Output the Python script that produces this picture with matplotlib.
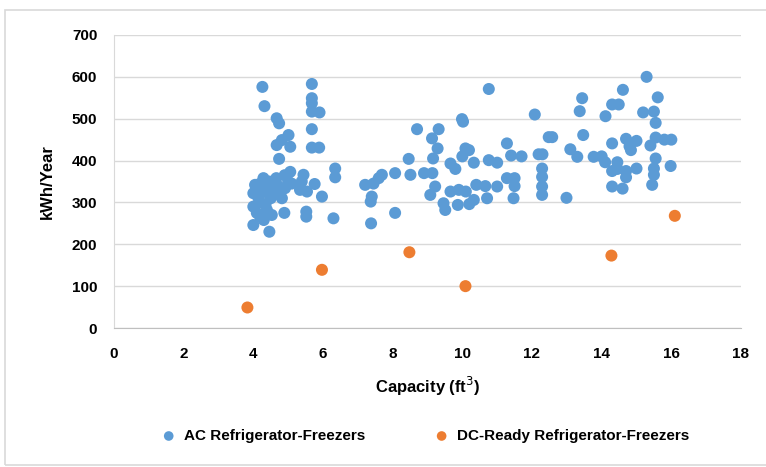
import matplotlib
matplotlib.use("Agg")
import matplotlib.pyplot as plt
from matplotlib.patches import Rectangle

# AC refrigerator-freezers: capacity (ft3), energy (kWh/year)
ac_capacity = [
    4.26, 4.32, 4.67, 4.74, 5.01, 4.82, 4.67, 5.06, 4.74, 5.06, 4.90, 4.29, 4.66,
    4.05, 4.00, 4.91, 4.82, 4.00, 4.39, 4.53, 4.89, 4.00, 4.46, 4.30,
    4.10, 4.15, 4.20, 4.25, 4.35, 4.40, 4.45, 4.50, 4.55, 4.60, 4.70, 4.75,
    4.10, 4.20, 4.20, 4.35, 4.50, 5.00, 5.10,
    5.68, 5.68, 5.68, 5.68, 5.90, 5.68, 5.68, 5.89, 6.35, 6.35, 5.44, 5.39,
    5.76, 5.34, 5.54, 5.97, 5.52, 5.52, 6.30,
    10.76, 12.08, 9.99, 10.02, 8.70, 9.32, 9.13, 12.48, 9.29, 10.09, 10.19, 11.28,
    9.16, 8.46, 10.00, 12.19, 11.40, 11.70, 10.76, 10.33, 9.66, 8.07, 7.69, 8.51,
    8.90, 9.14, 9.80, 11.00, 12.29, 12.29, 11.28, 11.50, 7.60, 7.21, 7.45, 10.40,
    9.22, 10.66, 11.00, 11.50, 12.29, 9.08, 9.66, 9.90, 10.10, 12.29, 11.47, 7.40,
    7.37, 10.71, 10.33, 9.46, 9.51, 9.87, 10.20, 8.07, 7.38,
    15.29, 14.61, 15.61, 13.44, 14.30, 14.49, 13.37, 14.11, 15.19, 15.50, 15.55,
    12.58, 13.47, 14.70, 14.30, 15.00, 14.80, 15.55, 16.00, 15.80, 15.40, 14.84,
    13.10, 13.30, 13.77, 14.00, 14.10, 14.45, 15.55, 12.30, 15.98, 14.45, 15.00,
    15.50, 14.70, 14.30, 14.70, 15.50, 15.45, 14.30, 14.60, 12.99,
]
ac_energy = [
    576, 530, 501, 489, 461, 449, 437, 433, 404, 373, 365, 358, 358,
    342, 322, 334, 310, 290, 282, 270, 275, 246, 230, 258,
    330, 310, 345, 335, 325, 340, 350, 330, 345, 320, 340, 330,
    275, 265, 300, 295, 310, 350, 345,
    583, 549, 537, 517, 515, 475, 431, 431, 381, 360, 366, 350,
    344, 330, 326, 314, 278, 266, 262,
    571, 510, 499, 493, 475, 475, 453, 456, 429, 429, 425, 441,
    405, 404, 410, 415, 412, 410, 401, 395, 393, 370, 366, 366,
    370, 370, 380, 395, 381, 361, 358, 358, 358, 342, 345, 342,
    338, 339, 338, 339, 338, 318, 326, 330, 326, 318, 310, 314,
    302, 310, 306, 298, 282, 294, 296, 275, 250,
    600, 569, 551, 549, 534, 534, 518, 506, 515, 517, 490,
    456, 461, 452, 441, 447, 434, 455, 450, 450, 436, 425,
    427, 409, 409, 410, 396, 396, 405, 415, 387, 380, 381,
    381, 375, 375, 360, 366, 342, 338, 333, 311,
]

# DC-ready refrigerator-freezers
dc_capacity = [3.83, 5.97, 8.48, 10.09, 14.28, 16.10]
dc_energy = [49, 139, 181, 100, 173, 268]

x_ticks = [0, 2, 4, 6, 8, 10, 12, 14, 16, 18]
y_ticks = [0, 100, 200, 300, 400, 500, 600, 700]

plt.rcParams['font.family'] = ['Liberation Sans', 'DejaVu Sans']

fig = plt.figure(figsize=(7.66, 4.67), dpi=100)
ax = fig.add_axes([114/766, 1-328/467, (741-114)/766, (328-35)/467])

blue = '#5B9BD5'
orange = '#ED7D31'
ax.scatter(ac_capacity, ac_energy, s=75, color=blue, edgecolors='none',
           label='AC Refrigerator-Freezers', zorder=3)
ax.scatter(dc_capacity, dc_energy, s=75, color=orange, edgecolors='none',
           label='DC-Ready Refrigerator-Freezers', zorder=3)

ax.set_xlim(0, 18)
ax.set_ylim(0, 700)
ax.set_xticks(x_ticks)
ax.set_yticks(y_ticks)
ax.tick_params(length=0, labelsize=11, colors='#000000')
ax.tick_params(axis='x', pad=14)
ax.tick_params(axis='y', pad=12)
for lbl in ax.get_xticklabels() + ax.get_yticklabels():
    lbl.set_fontweight('bold')
ax.yaxis.grid(True, color='#D9D9D9', linewidth=1)
ax.set_axisbelow(True)
for side in ['top', 'right']:
    ax.spines[side].set_visible(False)
ax.spines['left'].set_color('#D9D9D9')
ax.spines['bottom'].set_color('#BFBFBF')

ax.set_xlabel('Capacity (ft$^3$)', fontsize=12, fontweight='bold', labelpad=10)
ax.set_ylabel('kWh/Year', fontsize=12, fontweight='bold', labelpad=12)

leg = fig.legend(loc='center', bbox_to_anchor=(0.55, 1-436/467), ncol=2,
                 frameon=False, fontsize=11, handletextpad=0.0,
                 columnspacing=4.0, markerscale=0.8)
for t in leg.get_texts():
    t.set_fontweight('bold')

fig.patches.append(Rectangle((5/766, 0.005), 1, 1-10/467-0.005,
                             transform=fig.transFigure, fill=False,
                             edgecolor='#D9D9D9', linewidth=1.2))

fig.savefig('out.png', dpi=100)
